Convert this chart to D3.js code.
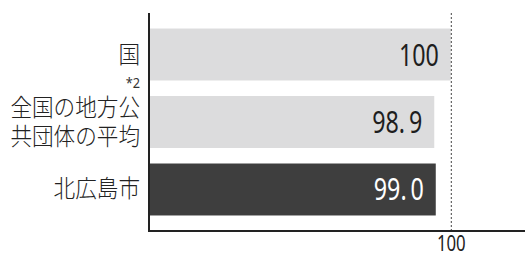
<!DOCTYPE html>
<html>
<head>
<meta charset="utf-8">
<script src="https://cdn.jsdelivr.net/npm/d3@7"></script>
<style>
  html, body { margin: 0; padding: 0; background: #fff; }
  svg { display: block; }
</style>
</head>
<body>
<div id="chart"></div>
<script>
// data
var categories = ["国", "全国の地方公共団体の平均", "北広島市"];
var labelLines = [["国"], ["全国の地方公", "共団体の平均"], ["北広島市"]];
var values = [100, 98.9, 99.0];
var valueLabels = ["100", "98.9", "99.0"];
var barColors = ["#dcdcdd", "#dcdcdd", "#3e3e3e"];
var textColors = ["#1e1e1e", "#1e1e1e", "#fff"];
var xTicks = [100];

var jp = "'Noto Sans CJK JP', sans-serif";
var num = "'Noto Sans', sans-serif";

var width = 525, height = 255;
var margin = {top: 13, right: 0, bottom: 24, left: 149};

var svg = d3.select("#chart").append("svg")
    .attr("width", width)
    .attr("height", height);

// scales
var x = d3.scaleLinear()
    .domain([80, 105])
    .range([150, 526]);

var y = d3.scaleBand()
    .domain(categories)
    .range([margin.top, height - margin.bottom])
    .padding(0.23);

var rows = categories.map(function(c, i) {
  return {cat: c, value: values[i], label: valueLabels[i], lines: labelLines[i], fill: barColors[i], tc: textColors[i]};
});

// bars
svg.selectAll(".bar")
  .data(rows)
.enter().append("rect")
  .attr("class", "bar")
  .attr("x", x(80))
  .attr("y", function(d) { return y(d.cat); })
  .attr("width", function(d) { return x(d.value) - x(80); })
  .attr("height", y.bandwidth())
  .attr("fill", function(d) { return d.fill; });

// reference line at 100
svg.append("line")
  .attr("x1", x(100) + 0.5).attr("x2", x(100) + 0.5)
  .attr("y1", margin.top).attr("y2", height - margin.bottom)
  .attr("stroke", "#444")
  .attr("stroke-width", 1)
  .attr("stroke-dasharray", "2,2");

// value labels (condensed digits)
svg.selectAll(".val")
  .data(rows)
.enter().append("text")
  .attr("class", "val")
  .attr("transform", function(d) {
    return "translate(" + (x(d.value) - 12) + "," + (y(d.cat) + y.bandwidth() / 2 + 11) + ") scale(0.75,1)";
  })
  .attr("text-anchor", "end")
  .style("font-family", num)
  .style("font-size", "31px")
  .attr("fill", function(d) { return d.tc; })
  .text(function(d) { return d.label.replace(".", ".\u2009"); });

// category labels
var lab = svg.selectAll(".cat")
  .data(rows)
.enter().append("g")
  .attr("class", "cat")
  .attr("transform", function(d) {
    return "translate(140," + (y(d.cat) + y.bandwidth() / 2) + ")";
  });

lab.each(function(d) {
  var g = d3.select(this);
  var n = d.lines.length, lh = 29;
  d.lines.forEach(function(line, i) {
    g.append("text")
      .attr("transform", "translate(0," + ((i - (n - 1) / 2) * lh + 8) + ") scale(0.9,1)")
      .attr("text-anchor", "end")
      .style("font-family", jp)
      .style("font-size", "24px")
      .style("font-weight", 300)
      .attr("fill", "#222")
      .text(line);
  });
});

// footnote mark
svg.append("text")
  .attr("transform", "translate(140,88) scale(0.85,1)")
  .attr("text-anchor", "end")
  .style("font-family", num)
  .style("font-size", "15px")
  .attr("fill", "#333")
  .text("*2");

// axes
svg.append("line")
  .attr("x1", margin.left).attr("x2", margin.left)
  .attr("y1", margin.top).attr("y2", height - margin.bottom + 1)
  .attr("stroke", "#222").attr("stroke-width", 2);

var xAxis = svg.append("g")
  .attr("transform", "translate(0," + (height - margin.bottom) + ")")
  .call(d3.axisBottom(x).tickValues(xTicks).tickSize(0).tickPadding(5));
xAxis.select(".domain").remove();
xAxis.append("line")
  .attr("x1", margin.left).attr("x2", width)
  .attr("stroke", "#222").attr("stroke-width", 2);
xAxis.selectAll(".tick text")
  .style("font-family", num)
  .style("font-size", "21px")
  .attr("fill", "#222")
  .attr("x", 0)
  .attr("y", 20)
  .attr("dy", 0)
  .attr("transform", "scale(0.8,1)");
</script>
</body>
</html>
